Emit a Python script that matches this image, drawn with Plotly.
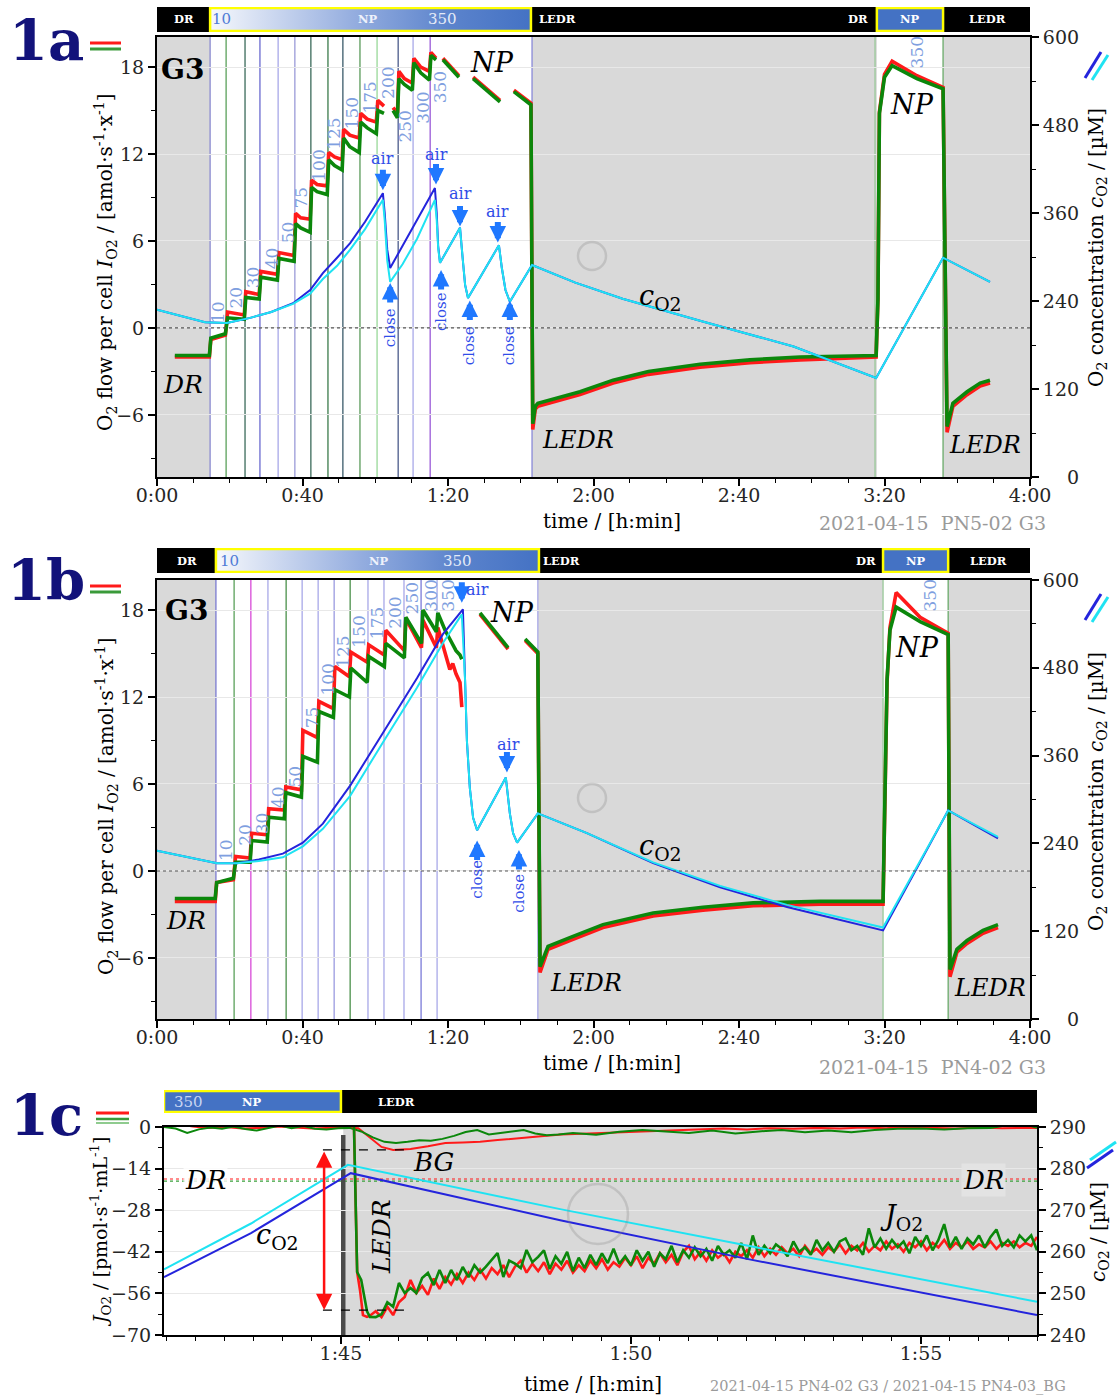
import plotly.graph_objects as go

FONT = "DejaVu Serif"
W, H = 1120, 1398

RED, GREEN, BLUE, CYAN = "#ff1a1a", "#0b870b", "#2424dc", "#1fe3f2"
GRAY = "#d9d9d9"
ARROW_BLUE, TXT_BLUE, TIT_BLUE = "#1f78ff", "#2f4de8", "#7f9fe0"
FIG_SP = "\u2007"

# ---------------- shared ticks ----------------
TIME_TICKS = [0, 40, 80, 120, 160, 200, 240]
TIME_LBL = ["0:00", "0:40", "1:20", "2:00", "2:40", "3:20", "4:00"]
FLOW_TICKS = [-6, 0, 6, 12, 18]
CONC_TICKS = [0, 120, 240, 360, 480, 600]
CONC_LBL = [FIG_SP + FIG_SP + "0", "120", "240", "360", "480", "600"]
C_TIME_TICKS = [105, 110, 115]
C_TIME_LBL = ["1:45", "1:50", "1:55"]
C_FLOW_TICKS = [-70, -56, -42, -28, -14, 0]
C_CONC_TICKS = [240, 250, 260, 270, 280, 290]
C_CONC_LBL = ["240", "250", "260", "270", "280", "290"]

# ---------------- panel 1a ----------------
A_T = [4.9, 14.4, 14.8, 18.8, 19.4, 24.0, 24.4, 28.1, 28.5, 33.1, 33.5, 37.7, 38.1, 39.5, 42.1,
       42.5, 44.0, 46.8, 47.2, 48.8, 50.9, 51.3, 53.0, 55.6, 56.0, 57.8, 60.3, 60.7, 62.4, None,
       64.9, 66.1, 66.5, 68.0, 70.2, 70.6, 72.5, 74.9, 75.3, 76.7, None, 78.6, 83.0, None,
       86.9, 94.3, None, 98.1, 102.8, 103.3, 104.0, 104.7, 108.9, 116.3, 125.4, 135.1, 149.3,
       163.0, 176.8, 190.5, 197.7, 198.2, 198.6, 200.0, 202.1, 208.9, 216.1, 217.2, 218.8,
       222.7, 226.3, 229.0]
A_RED = [-2.0, -2.0, -0.8, -0.5, 1.1, 0.9, 2.5, 2.3, 3.9, 3.7, 5.2, 5.0, 7.9, 7.6, 7.5,
         10.2, 9.9, 9.8, 12.1, 11.8, 11.6, 13.7, 13.3, 13.1, 14.8, 14.4, 14.2, 15.7, 15.3, None,
         15.2, 14.8, 17.7, 17.2, 16.9, 18.6, 18.0, 17.7, 19.0, 18.6, None, 18.6, 17.4, None,
         17.3, 15.7, None, 16.4, 15.5, -7.0, -5.6, -5.4, -5.1, -4.6, -3.8, -3.2, -2.7,
         -2.4, -2.2, -2.1, -2.0, 2.0, 14.9, 17.5, 18.4, 17.4, 16.6, -7.2, -5.4,
         -4.6, -4.0, -3.8]
A_GRN = [-1.9, -1.9, -0.7, -0.4, 0.7, 0.6, 2.1, 2.0, 3.5, 3.3, 4.8, 4.6, 7.2, 6.9, 6.6,
         9.7, 9.4, 9.2, 11.6, 11.2, 10.9, 13.1, 12.5, 12.1, 14.2, 13.8, 13.4, 15.0, 14.8, None,
         15.0, 14.5, 17.2, 16.8, 16.4, 18.3, 17.6, 17.1, 18.8, 18.5, None, 18.5, 17.3, None,
         17.2, 15.6, None, 16.3, 15.4, -6.6, -5.4, -5.2, -4.9, -4.4, -3.6, -3.0, -2.5,
         -2.2, -2.0, -1.9, -1.9, 2.0, 14.8, 17.3, 18.1, 17.2, 16.5, -6.8, -5.2,
         -4.4, -3.8, -3.6]
A_CB_T = [0, 13.2, 19.2, 25.6, 31.4, 37.4, 42.1, 45.6, 49.5, 53.1, 57.2, 62.1, 62.6, 63.3, 64.1,
          76.4, 76.9, 77.3, 77.8, 83.3, 84.0, 84.7, 85.5, 94.0, 94.8, 95.8, 97.0, 103.1, 115.0,
          128.0, 150.0, 175.0, 197.7, 216.1, 229.0]
A_CB = [228, 211, 210, 217, 225, 237, 255, 278, 299, 319, 348, 387, 360, 310, 285,
        394, 360, 315, 292, 340, 300, 262, 244, 316, 285, 255, 239, 289, 265,
        243, 212, 178, 135, 299, 266]
A_CC_T = [0, 13.2, 19.2, 25.6, 31.4, 37.4, 42.1, 45.6, 49.5, 53.1, 57.2, 62.1, 62.6, 63.3, 64.1,
          67.5, 71.5, 76.4, 76.9, 77.3, 77.8, 83.3, 84.0, 84.7, 85.5, 94.0, 94.8, 95.8, 97.0,
          103.1, 115.0, 128.0, 150.0, 175.0, 197.7, 216.1, 229.0]
A_CC = [228, 211, 210, 217, 225, 236, 250, 270, 288, 310, 338, 378, 350, 295, 266,
        290, 325, 378, 350, 312, 292, 340, 300, 262, 244, 316, 285, 255, 239,
        289, 265, 243, 212, 178, 135, 299, 266]
A_EV_T = [14.6, 19.0, 24.2, 28.3, 33.3, 37.9, 42.3, 47.0, 51.1, 55.8, 60.5, 66.3, 70.4, 75.1,
          103.1, 197.4, 216.1]
A_EV_C = ["#8a8ad0", "#5aa05a", "#3a6a5a", "#6a6ad0", "#a8a8e8", "#9a9ad8", "#3a6a5a",
          "#3a7a4a", "#3a5a6a", "#5a9a5a", "#98d898", "#4a5a8a", "#a8a8e8", "#9a5ad8",
          "#8a8ad8", "#98c898", "#6aaa6a"]
A_GRAY_X0 = [0, 103.1, 216.1]
A_GRAY_X1 = [14.6, 197.9, 240]
A_NP1 = [14.6, 102.8]
A_NP2 = [197.9, 216.1]
A_TIT_LBL = ["10", "20", "30", "40", "50", "75", "100", "125", "150", "175", "200", "250",
             "300", "350", "350"]
A_TIT_T = [16.8, 21.7, 26.4, 31.6, 36.0, 39.6, 44.3, 48.7, 53.6, 58.6, 63.5, 68.2, 72.9,
           77.8, 208.9]
A_TIT_V = [1.1, 2.1, 3.5, 4.8, 6.6, 9.0, 11.2, 13.4, 14.8, 15.9, 16.9, 13.9, 15.2, 16.6, 19.0]
A_AIR_T = [62.1, 76.7, 83.3, 93.7]
A_AIR_TIP = [9.5, 9.9, 7.0, 5.9]
A_AIR_TXT = [11.7, 12.0, 9.3, 8.0]
A_CLOSE_T = [64.1, 78.1, 86.0, 97.0]
A_CLOSE_TIP = [3.1, 4.0, 1.9, 1.9]
A_CLOSE_TXT = [0.0, 1.1, -1.2, -1.2]

# ---------------- panel 1b ----------------
B_T = [4.9, 16.0, 16.4, 21.0, 21.6, 25.6, 26.0, 30.3, 30.7, 35.0, 35.4, 39.7, 40.1, 44.1,
       44.5, 48.5, 48.9, 52.9, 53.3, 57.8, 58.2, 62.5, 62.9, 68.0, 68.4, 72.7, 73.1, 76.8,
       77.2, 79.2, 80.5, 81.3, 82.2, 83.3, 83.8, None, 88.8, 96.5, None, 101.2, 104.7,
       105.3, 107.5, 113.5, 122.6, 136.4, 150.1, 163.9, 182.3, 199.6, 200.2, 200.7, 201.5,
       203.2, 209.8, 217.5, 218.0, 219.9, 222.7, 227.1, 231.2]
B_RED = [-2.1, -2.1, -0.8, -0.6, 1.0, 0.9, 2.6, 2.5, 4.3, 4.2, 5.8, 5.6, 9.7, 9.2,
         11.7, 11.2, 14.1, 13.4, 15.1, 14.4, 15.6, 14.9, 16.6, 15.2, 17.4, 15.4, 17.3, 15.4,
         16.8, 15.0, 13.9, 14.3, 13.6, 13.0, 11.3, None, 17.7, 15.3, None, 15.9, 15.0,
         -7.0, -5.4, -4.8, -3.9, -3.1, -2.7, -2.4, -2.3, -2.3, 5.0, 13.0, 16.8,
         19.2, 17.5, 16.4, -7.3, -5.6, -5.0, -4.3, -3.9]
B_GRN = [-1.9, -1.9, -0.8, -0.5, 0.6, 0.6, 2.1, 2.0, 3.7, 3.6, 5.4, 5.1, 7.9, 7.5,
         11.0, 10.6, 12.5, 12.0, 14.0, 13.0, 14.8, 14.1, 15.7, 14.7, 17.5, 15.7, 18.0, 16.5,
         17.8, 16.6, 16.0, 15.6, 15.2, 14.9, 14.6, None, 17.8, 15.4, None, 16.0, 15.1,
         -6.6, -5.2, -4.6, -3.7, -2.9, -2.5, -2.2, -2.1, -2.1, 5.0, 13.2, 16.6,
         18.2, 17.2, 16.3, -6.8, -5.4, -4.8, -4.1, -3.7]
B_CB_T = [0, 16.5, 22.0, 28.0, 34.6, 40.1, 45.6, 53.1, 62.1, 71.5, 78.6, 84.1, 84.7, 85.2,
          86.0, 86.9, 88.0, 95.9, 97.0, 97.9, 99.0, 104.7, 118.2, 136.4, 154.8, 173.2,
          199.6, 217.5, 231.2]
B_CB = [230, 213, 213, 218, 226, 241, 267, 319, 391, 466, 526, 560, 462, 380,
        316, 275, 258, 330, 281, 254, 241, 281, 254, 213, 180, 153,
        121, 285, 247]
B_CC_T = [0, 16.5, 22.0, 28.0, 34.6, 40.1, 45.6, 53.1, 62.1, 71.5, 78.6, 83.8, 84.7, 85.2,
          86.0, 86.9, 88.0, 95.9, 97.0, 97.9, 99.0, 104.7, 118.2, 136.4, 154.8, 173.2,
          199.6, 217.5, 231.2]
B_CC = [230, 213, 213, 216, 221, 236, 260, 305, 378, 453, 514, 553, 462, 380,
        316, 275, 258, 330, 281, 254, 241, 281, 254, 214, 182, 156,
        125, 285, 249]
B_EV_T = [16.2, 21.2, 25.8, 30.5, 35.5, 39.9, 44.3, 48.7, 53.1, 58.0, 62.4, 67.9, 72.6, 77.0,
          104.7, 199.6, 217.5]
B_EV_C = ["#7a7ad0", "#5aa05a", "#d84ad8", "#a8a8e8", "#4a904a", "#a8a8e8", "#a8a8e8",
          "#9a9ae0", "#4a904a", "#a8a8e8", "#a8a8e8", "#a8a8e8", "#7a7ad8", "#a8a8e8",
          "#a8a8e8", "#98c898", "#6aaa6a"]
B_GRAY_X0 = [0, 104.7, 217.5]
B_GRAY_X1 = [16.2, 199.6, 240]
B_NP1 = [16.2, 105.0]
B_NP2 = [199.6, 217.5]
B_TIT_LBL = ["10", "20", "30", "40", "50", "75", "100", "125", "150", "175", "200", "250",
             "300", "350", "350"]
B_TIT_T = [19.0, 24.2, 28.9, 33.3, 37.9, 42.6, 47.0, 51.1, 55.5, 60.5, 65.4, 70.1, 75.1,
           80.0, 212.5]
B_TIT_V = [1.45, 2.5, 3.3, 5.1, 6.5, 10.6, 13.2, 15.1, 16.5, 17.1, 17.8, 18.8, 19.0, 19.0, 19.0]
B_AIR_T = [83.8, 96.2]
B_AIR_TIP = [18.5, 6.8]
B_AIR_TXT_T = [88.2, 96.5]
B_AIR_TXT = [19.4, 8.7]
B_CLOSE_T = [88.0, 99.5]
B_CLOSE_TIP = [2.1, 1.45]
B_CLOSE_TXT = [-0.6, -1.5]

# ---------------- panel 1c ----------------
C_CB_T = [101.95, 103.45, 105.17, 108.8, 112.0, 117.0]
C_CB = [253.9, 264.5, 278.9, 267.5, 258.3, 244.8]
C_CC_T = [101.95, 103.45, 105.12, 108.8, 112.0, 117.0]
C_CC = [255.8, 266.8, 280.9, 270.2, 261.5, 248.0]

C_BGR_T = [101.95, 102.2, 102.45, 102.7, 103.0, 103.3, 103.6, 103.9, 104.2, 104.5, 104.8, 105.1,
           105.3, 105.5, 105.7, 105.9, 106.2, 106.5, 106.8, 107.1, 107.4, 107.7, 108.0, 108.4,
           108.8, 109.2, 109.6, 110.0, 110.4, 110.8, 111.2, 111.6, 112.0, 112.4, 112.8, 113.2,
           113.6, 114.0, 114.4, 114.8, 115.2, 115.6, 116.0, 116.4, 116.8, 117.0]
C_BGR = [0.3, 0.8, 0.2, -0.3, 0.0, -0.5, -0.3, 0.2, -0.2, -0.5, -0.3, -0.2,
         -0.4, -3.5, -6.7, -7.7, -7.4, -6.5, -5.4, -5.2, -5.0, -4.4, -3.8, -3.2,
         -2.5, -2.2, -2.0, -1.7, -1.3, -1.0, -0.7, -0.5, -0.8, -0.4, -0.6, -0.3,
         -0.5, -0.2, -0.4, 0.1, -0.3, -0.5, -0.2, -0.4, -0.3, -0.3]
C_BGG_T = [101.95, 102.15, 102.35, 102.55, 102.75, 102.95, 103.15, 103.35, 103.55, 103.75,
           103.95, 104.15, 104.35, 104.55, 104.75, 104.95, 105.15, 105.35, 105.55, 105.75,
           105.95, 106.15, 106.35, 106.55, 106.75, 106.95, 107.15, 107.35, 107.55, 107.75,
           107.95, 108.15, 108.35, 108.55, 108.75, 109.0, 109.4, 109.8, 110.2, 110.6, 111.0,
           111.4, 111.8, 112.2, 112.6, 113.0, 113.4, 113.8, 114.2, 114.6, 115.0, 115.4, 115.8,
           116.2, 116.5, 116.7, 116.9, 117.0]
C_BGG = [0.0, -0.5, -2.0, -0.8, -0.2, -0.6, 0.2, -0.7, -1.2, -0.3,
         0.5, -0.4, 0.3, -0.6, -0.8, -0.4, -0.3, -1.5, -3.5, -5.0,
         -5.4, -5.0, -4.5, -4.6, -4.0, -3.0, -1.7, -1.0, -2.5, -2.0,
         -1.5, -1.0, -2.2, -2.8, -2.5, -2.0, -2.6, -1.6, -1.0, -1.4, -2.0,
         -1.2, -2.2, -1.5, -1.0, -1.8, -1.2, -1.8, -1.0, -0.6, -0.5, -0.8, -0.4,
         -0.3, 0.5, 1.3, 0.3, -0.3]

C_G_T = [105.22, 105.28, 105.35, 105.40, 105.45,
         105.5, 105.6, 105.7, 105.8, 105.9, 106.0, 106.1, 106.2, 106.3, 106.4, 106.5, 106.6,
         106.7, 106.8, 106.9, 107.0, 107.1, 107.2, 107.3, 107.4, 107.5, 107.6, 107.7, 107.8,
         107.9, 108.0, 108.1, 108.2, 108.3, 108.4, 108.5, 108.6, 108.7, 108.8, 108.9, 109.0,
         109.1, 109.2, 109.3, 109.4, 109.5, 109.6, 109.7, 109.8, 109.9, 110.0, 110.1, 110.2,
         110.3, 110.4, 110.5, 110.6, 110.7, 110.8, 110.9, 111.0, 111.1, 111.2, 111.3, 111.4,
         111.5, 111.6, 111.7, 111.8, 111.9, 112.0, 112.1, 112.2, 112.3, 112.4, 112.5, 112.6,
         112.7, 112.8, 112.9, 113.0, 113.1, 113.2, 113.3, 113.4, 113.5, 113.6, 113.7, 113.8,
         113.9, 114.0, 114.1, 114.2, 114.3, 114.4, 114.5, 114.6, 114.7, 114.8, 114.9, 115.0,
         115.1, 115.2, 115.3, 115.4, 115.5, 115.6, 115.7, 115.8, 115.9, 116.0, 116.1, 116.2,
         116.3, 116.4, 116.5, 116.6, 116.7, 116.8, 116.9, 117.0]
C_G = [5.0, -48.8, -51.5, -57.2, -62.0,
       -63.9, -64.0, -63.0, -59.0, -60.5, -52.5, -55.9, -54.2, -55.9, -50.8, -49.1, -53.2,
       -48.1, -52.5, -48.1, -51.5, -47.1, -50.5, -46.5, -49.0, -47.0, -44.8, -42.4, -50.5,
       -45.0, -46.0, -47.5, -41.4, -45.5, -43.7, -41.5, -47.8, -43.5, -46.0, -42.0, -48.5,
       -44.0, -47.5, -43.0, -46.5, -42.5, -45.8, -41.0, -46.0, -43.5, -46.5, -41.5, -45.0,
       -42.0, -47.0, -42.5, -44.5, -40.0, -45.5, -41.5, -44.0, -40.5, -43.5, -41.0, -45.0,
       -40.0, -43.0, -41.5, -44.0, -39.0, -44.5, -36.5, -43.0, -40.0, -42.5, -39.5, -41.0,
       -43.5, -38.5, -42.0, -40.5, -43.0, -38.0, -41.5, -39.0, -42.0, -38.5, -37.5, -41.5,
       -40.0, -43.0, -34.1, -40.5, -37.5, -41.0, -38.0, -40.5, -38.5, -42.5, -37.0, -40.0,
       -36.5, -41.5, -38.0, -32.7, -40.5, -37.0, -41.0, -37.5, -39.5, -36.5, -40.5, -37.0,
       -34.5, -40.0, -38.0, -40.5, -36.5, -38.5, -36.5, -41.5]
C_R_T = [105.22, 105.28, 105.33, 105.38, 105.45,
         105.5, 105.6, 105.7, 105.8, 105.9, 106.0, 106.1, 106.2, 106.3, 106.4, 106.5, 106.6,
         106.7, 106.8, 106.9, 107.0, 107.1, 107.2, 107.3, 107.4, 107.5, 107.6, 107.7, 107.8,
         107.9, 108.0, 108.1, 108.2, 108.3, 108.4, 108.5, 108.6, 108.7, 108.8, 108.9, 109.0,
         109.1, 109.2, 109.3, 109.4, 109.5, 109.6, 109.7, 109.8, 109.9, 110.0, 110.1, 110.2,
         110.3, 110.4, 110.5, 110.6, 110.7, 110.8, 110.9, 111.0, 111.1, 111.2, 111.3, 111.4,
         111.5, 111.6, 111.7, 111.8, 111.9, 112.0, 112.1, 112.2, 112.3, 112.4, 112.5, 112.6,
         112.7, 112.8, 112.9, 113.0, 113.1, 113.2, 113.3, 113.4, 113.5, 113.6, 113.7, 113.8,
         113.9, 114.0, 114.1, 114.2, 114.3, 114.4, 114.5, 114.6, 114.7, 114.8, 114.9, 115.0,
         115.1, 115.2, 115.3, 115.4, 115.5, 115.6, 115.7, 115.8, 115.9, 116.0, 116.1, 116.2,
         116.3, 116.4, 116.5, 116.6, 116.7, 116.8, 116.9, 117.0]
C_R = [5.0, -48.8, -55.0, -63.3, -63.9,
       -63.5, -62.0, -64.0, -60.5, -63.3, -59.0, -57.2, -51.5, -55.9, -53.5, -56.5, -51.0,
       -54.5, -50.5, -53.0, -49.5, -52.5, -49.0, -51.5, -48.0, -51.0, -47.5, -49.5, -46.5,
       -50.5, -47.0, -45.0, -49.0, -46.0, -48.5, -45.5, -49.5, -46.0, -48.0, -45.0, -49.0,
       -46.5, -48.5, -45.0, -47.5, -44.5, -48.0, -45.5, -47.0, -44.0, -46.5, -43.5, -47.5,
       -44.0, -46.0, -42.5, -45.5, -43.0, -46.5, -42.0, -40.0, -44.5, -42.0, -45.0, -41.5,
       -44.0, -42.5, -45.5, -42.0, -43.5, -41.5, -44.0, -40.5, -43.5, -41.0, -43.0, -40.5,
       -42.5, -41.0, -43.5, -40.0, -42.5, -41.0, -43.0, -40.5, -42.0, -39.5, -42.5, -40.0,
       -41.5, -39.0, -42.0, -40.0, -41.5, -38.5, -41.0, -39.5, -42.0, -39.0, -40.5, -38.5,
       -41.5, -39.0, -40.5, -38.0, -41.0, -39.0, -40.5, -38.5, -41.0, -39.5, -40.5, -38.5,
       -41.0, -39.0, -40.0, -38.5, -40.5, -39.0, -40.0, -37.0]
C_EVENT = 105.04
C_GRAY = [105.04, 117.0]
C_NP = [101.95, 105.0]
C_DR_RED = -17.5
C_DR_GRN = -18.2
C_BG_LEVEL = -7.7
C_LEDR_MIN = -61.6
C_MARK_T = [104.69, 106.23]
C_ARROW_T = 104.71
C_EVENT_TOP = -2.7

fig = go.Figure()


def line(x, y, xa, ya, color, width):
    fig.add_trace(go.Scatter(x=x, y=y, xaxis=xa, yaxis=ya, mode="lines",
                             line=dict(color=color, width=width), hoverinfo="skip",
                             connectgaps=False, showlegend=False))


shapes, anns = [], []


def txt(xr, yr, x, y, text, size, color="black", bold=False, italic=False, angle=0, **kw):
    t = text
    if italic:
        t = "<i>" + t + "</i>"
    if bold:
        t = "<b>" + t + "</b>"
    d = dict(xref=xr, yref=yr, x=x, y=y, text=t, showarrow=False, textangle=angle,
             font=dict(family=FONT, size=size, color=color))
    d.update(kw)
    anns.append(d)


def arrow(xr, yr, x, y, ay):
    anns.append(dict(xref=xr, yref=yr, x=x, y=y, ax=0, ay=ay, text="", showarrow=True,
                     arrowhead=2, arrowsize=0.55, arrowwidth=6, arrowcolor=ARROW_BLUE,
                     standoff=0))


def panel_big(xa, ya, ya2, yb, T, RD, GR, CBT, CB, CCT, CC, EVT, EVC, GX0, GX1, NP1, NP2,
              TL, TT, TV):
    xr = xa
    for a, b in zip(GX0, GX1):
        shapes.append(dict(type="rect", xref=xr, yref=ya + " domain", x0=a, x1=b, y0=0, y1=1,
                           fillcolor=GRAY, line=dict(width=0), layer="below"))
    for t, c in zip(EVT, EVC):
        shapes.append(dict(type="line", xref=xr, yref=ya + " domain", x0=t, x1=t, y0=0, y1=1,
                           line=dict(color=c, width=1.3), layer="below"))
    shapes.append(dict(type="line", xref=xr + " domain", yref=ya, x0=0, x1=1, y0=0, y1=0,
                       line=dict(color="#555", width=1.2, dash="dot"), layer="above"))
    line(T, RD, xa, ya, RED, 3.6)
    line(T, GR, xa, ya, GREEN, 3.6)
    line(CBT, CB, xa, ya2, BLUE, 2)
    line(CCT, CC, xa, ya2, CYAN, 2)
    shapes.append(dict(type="rect", xref=xr + " domain", yref=yb, x0=0, x1=1, y0=0, y1=1,
                       fillcolor="black", line=dict(width=0), layer="below"))
    fig.add_trace(go.Scatter(x=[NP1[0], NP1[1], NP1[1], NP1[0], NP1[0]], y=[0, 0, 1, 1, 0],
                             xaxis=xa, yaxis=yb, mode="lines", fill="toself",
                             line=dict(width=0),
                             fillgradient=dict(type="horizontal",
                                               colorscale=[[0, "#f6f8fc"], [0.45, "#94addf"],
                                                           [0.75, "#5b83cc"], [1, "#4472c4"]]),
                             hoverinfo="skip", showlegend=False))
    shapes.append(dict(type="rect", xref=xr, yref=yb, x0=NP1[0], x1=NP1[1], y0=0.04, y1=0.96,
                       line=dict(color="#ffff00", width=2.5), layer="above"))
    shapes.append(dict(type="rect", xref=xr, yref=yb, x0=NP2[0], x1=NP2[1], y0=0.04, y1=0.96,
                       fillcolor="#4472c4", line=dict(color="#ffff00", width=2.5),
                       layer="above"))
    for l, t, v in zip(TL, TT, TV):
        txt(xr, ya, t, v, l, 17, color=TIT_BLUE, angle=-90)


panel_big("x", "y", "y2", "y3", A_T, A_RED, A_GRN, A_CB_T, A_CB, A_CC_T, A_CC, A_EV_T, A_EV_C,
          A_GRAY_X0, A_GRAY_X1, A_NP1, A_NP2, A_TIT_LBL, A_TIT_T, A_TIT_V)
panel_big("x2", "y4", "y5", "y6", B_T, B_RED, B_GRN, B_CB_T, B_CB, B_CC_T, B_CC, B_EV_T,
          B_EV_C, B_GRAY_X0, B_GRAY_X1, B_NP1, B_NP2, B_TIT_LBL, B_TIT_T, B_TIT_V)

for xr, yb, items in [
    ("x", "y3", [(7.4, "DR", "white", True), (17.6, "10", "#4f7bd6", False),
                 (58.0, "NP", "#eef2fb", True), (78.6, "350", "#e4ebf8", False),
                 (110.0, "LEDR", "white", True), (192.7, "DR", "white", True),
                 (207.0, "NP", "white", True), (228.2, "LEDR", "white", True)]),
    ("x2", "y6", [(8.2, "DR", "white", True), (19.8, "10", "#4f7bd6", False),
                  (61.0, "NP", "#eef2fb", True), (82.5, "350", "#e4ebf8", False),
                  (111.1, "LEDR", "white", True), (194.9, "DR", "white", True),
                  (208.7, "NP", "white", True), (228.7, "LEDR", "white", True)])]:
    for t, s, c, b in items:
        txt(xr, yb, t, 0.5, s, 11.5 if b else 15, color=c, bold=b)

txt("x", "y", 7.1, 17.8, "G3", 28, bold=True)
txt("x", "y", 92.1, 18.3, "NP", 27, italic=True)
txt("x", "y", 207.6, 15.4, "NP", 27, italic=True)
txt("x", "y", 7.1, -3.9, "DR", 25, italic=True)
txt("x", "y", 115.7, -7.7, "LEDR", 24, italic=True)
txt("x", "y", 227.6, -8.1, "LEDR", 24, italic=True)
txt("x", "y", 138.3, 2.1, "<i>c</i><sub>O2</sub>", 27)
for t, tip, ty in zip(A_AIR_T, A_AIR_TIP, A_AIR_TXT):
    arrow("x", "y", t, tip, -22)
    txt("x", "y", t, ty, "air", 16, color=TXT_BLUE)
for t, tip, ty in zip(A_CLOSE_T, A_CLOSE_TIP, A_CLOSE_TXT):
    arrow("x", "y", t, tip, 21)
    txt("x", "y", t, ty, "close", 15, color=TXT_BLUE, angle=-90)

txt("x2", "y4", 8.0, 18.0, "G3", 28, bold=True)
txt("x2", "y4", 97.6, 17.8, "NP", 27, italic=True)
txt("x2", "y4", 208.9, 15.4, "NP", 27, italic=True)
txt("x2", "y4", 8.0, -3.4, "DR", 25, italic=True)
txt("x2", "y4", 117.9, -7.7, "LEDR", 24, italic=True)
txt("x2", "y4", 229.0, -8.1, "LEDR", 24, italic=True)
txt("x2", "y4", 138.3, 1.6, "<i>c</i><sub>O2</sub>", 27)
for t, tip in zip(B_AIR_T, B_AIR_TIP):
    arrow("x2", "y4", t, tip, -22)
for t, ty in zip(B_AIR_TXT_T, B_AIR_TXT):
    txt("x2", "y4", t, ty, "air", 16, color=TXT_BLUE)
for t, tip, ty in zip(B_CLOSE_T, B_CLOSE_TIP, B_CLOSE_TXT):
    arrow("x2", "y4", t, tip, 21)
    txt("x2", "y4", t, ty, "close", 15, color=TXT_BLUE, angle=-90)

# ---------------- panel 1c drawing ----------------
shapes.append(dict(type="rect", xref="x3", yref="y7 domain", x0=C_GRAY[0], x1=C_GRAY[1],
                   y0=0, y1=1, fillcolor=GRAY, line=dict(width=0), layer="below"))
shapes.append(dict(type="line", xref="x3 domain", yref="y7", x0=0, x1=1, y0=C_DR_RED,
                   y1=C_DR_RED, line=dict(color=RED, width=1.2, dash="dot"), layer="below"))
shapes.append(dict(type="line", xref="x3 domain", yref="y7", x0=0, x1=1, y0=C_DR_GRN,
                   y1=C_DR_GRN, line=dict(color="#3aa03a", width=1.2, dash="dot"),
                   layer="below"))
shapes.append(dict(type="line", xref="x3", yref="y7", x0=C_EVENT, x1=C_EVENT, y0=C_EVENT_TOP,
                   y1=-70, line=dict(color="#4a4a4a", width=4.5), layer="below"))
for lv in (C_BG_LEVEL, C_LEDR_MIN):
    shapes.append(dict(type="line", xref="x3", yref="y7", x0=C_MARK_T[0], x1=C_MARK_T[1],
                       y0=lv, y1=lv, line=dict(color="black", width=1.3, dash="dash"),
                       layer="above"))
line(C_BGR_T, C_BGR, "x3", "y7", RED, 2)
line(C_BGG_T, C_BGG, "x3", "y7", GREEN, 2)
line(C_R_T, C_R, "x3", "y7", RED, 2.6)
line(C_G_T, C_G, "x3", "y7", GREEN, 2.6)
line(C_CB_T, C_CB, "x3", "y8", BLUE, 2)
line(C_CC_T, C_CC, "x3", "y8", CYAN, 2)
anns.append(dict(xref="x3", yref="y7", x=C_ARROW_T, y=C_LEDR_MIN, axref="x3", ayref="y7",
                 ax=C_ARROW_T, ay=C_BG_LEVEL, text="", showarrow=True, arrowside="end+start",
                 arrowhead=2, startarrowhead=2, arrowsize=1.3, startarrowsize=1.3,
                 arrowwidth=2.5, arrowcolor="#ff1010"))
shapes.append(dict(type="rect", xref="x3", yref="y9", x0=C_NP[1], x1=117.0, y0=0, y1=1,
                   fillcolor="black", line=dict(width=0), layer="above"))
shapes.append(dict(type="rect", xref="x3", yref="y9", x0=C_NP[0], x1=C_NP[1], y0=0.04,
                   y1=0.96, fillcolor="#4472c4", line=dict(color="#ffff00", width=2.5),
                   layer="above"))
txt("x3", "y9", 102.38, 0.5, "350", 15, color="#c9d6f2")
txt("x3", "y9", 103.47, 0.5, "NP", 11.5, color="white", bold=True)
txt("x3", "y9", 105.95, 0.5, "LEDR", 11.5, color="white", bold=True)
txt("x3", "y7", 106.6, -11.8, "BG", 26, italic=True)
txt("x3", "y7", 102.66, -17.8, "DR", 26, italic=True, bgcolor="rgba(255,255,255,0.8)")
txt("x3", "y7", 116.07, -17.8, "DR", 26, italic=True, bgcolor="rgba(228,228,228,0.95)")
txt("x3", "y7", 103.9, -37.0, "<i>c</i><sub>O2</sub>", 27)
txt("x3", "y7", 105.71, -37.0, "LEDR", 25, italic=True, angle=-90)
txt("x3", "y7", 114.66, -30.6, "<i>J</i><sub>O2</sub>", 27)


def ptxt(x, y, text, size, color="black", angle=0, **kw):
    d = dict(xref="paper", yref="paper", x=x / W, y=1 - y / H, text=text, showarrow=False,
             textangle=angle, font=dict(family=FONT, size=size, color=color),
             xanchor="center", yanchor="middle")
    d.update(kw)
    anns.append(d)


FLOW_TITLE = "O<sub>2</sub> flow per cell <i>I</i><sub>O2</sub> / [amol·s<sup>-1</sup>·x<sup>-1</sup>]"
CONC_TITLE = "O<sub>2</sub> concentration <i>c</i><sub>O2</sub> / [µM]"
ptxt(106, 262, FLOW_TITLE, 20, angle=-90)
ptxt(1097, 248, CONC_TITLE, 20, angle=-90)
ptxt(106, 806, FLOW_TITLE, 20, angle=-90)
ptxt(1097, 792, CONC_TITLE, 20, angle=-90)
ptxt(100, 1232, "<i>J</i><sub>O2</sub> / [pmol·s<sup>-1</sup>·mL<sup>-1</sup>]", 19, angle=-90)
ptxt(1099, 1232, "<i>c</i><sub>O2</sub> / [µM]", 20, angle=-90)
ptxt(612, 521, "time / [h:min]", 20)
ptxt(612, 1063, "time / [h:min]", 20)
ptxt(593, 1384, "time / [h:min]", 20)
ptxt(932, 523, "2021-04-15  PN5-02 G3", 19, color="#9a9a9a")
ptxt(932, 1067, "2021-04-15  PN4-02 G3", 19, color="#9a9a9a")
ptxt(888, 1386, "2021-04-15 PN4-02 G3 / 2021-04-15 PN4-03_BG", 14.5, color="#9a9a9a")
for lab, yy in (("1a", 40), ("1b", 580), ("1c", 1115)):
    ptxt(46, yy, "<b>" + lab + "</b>", 56, color="#12127a")


def pline(x0, y0, x1, y1, color, width):
    shapes.append(dict(type="line", xref="paper", yref="paper", x0=x0 / W, x1=x1 / W,
                       y0=1 - y0 / H, y1=1 - y1 / H, line=dict(color=color, width=width)))


for yr, yg in ((43, 49), (586, 592)):
    pline(90, yr, 121, yr, RED, 3)
    pline(90, yg, 121, yg, "#3a9a3a", 3)
pline(96, 1113, 129, 1113, RED, 3)
pline(96, 1119, 129, 1119, "#3a9a3a", 2.5)
pline(96, 1123, 129, 1123, "#6aba6a", 1.5)
for base in (66, 608):
    pline(1085, base + 12, 1101, base - 14, BLUE, 3)
    pline(1092, base + 14, 1108, base - 11, CYAN, 3)
pline(1087, 1168, 1113, 1150, BLUE, 3)
pline(1090, 1160, 1116, 1142, CYAN, 3)

for (cx, cy, r) in ((592, 256, 14), (592, 798, 14), (598, 1214, 30)):
    shapes.append(dict(type="circle", xref="paper", yref="paper", x0=(cx - r) / W,
                       x1=(cx + r) / W, y0=1 - (cy + r) / H, y1=1 - (cy - r) / H,
                       line=dict(color="rgba(140,140,140,0.3)", width=2.5), layer="above"))

TICKFONT = dict(family=FONT, size=19, color="#262626")


def xax(dom, rng, tv, tt, anchor, minor_dtick):
    return dict(domain=dom, range=rng, anchor=anchor, tickmode="array", tickvals=tv, ticktext=tt,
                showline=True, linecolor="black", linewidth=2, mirror=True, ticks="outside",
                ticklen=7, tickwidth=1.5, tickcolor="black", tickfont=TICKFONT,
                ticklabelstandoff=-7, automargin=False,
                showgrid=False, zeroline=False,
                minor=dict(ticks="outside", ticklen=4, tickwidth=1, tickcolor="black",
                           dtick=minor_dtick, tick0=0, showgrid=False))


def yax(dom, rng, tv, anchor, minor_dtick, grid=True, tt=None):
    d = dict(domain=dom, range=rng, anchor=anchor, tickmode="array", tickvals=tv,
             showline=True, linecolor="black", linewidth=2, ticks="outside", ticklen=7,
             tickwidth=1.5, tickcolor="black", tickfont=TICKFONT, showgrid=grid,
             gridcolor="#e8e8e8", gridwidth=1, zeroline=False, automargin=False,
             minor=dict(ticks="outside", ticklen=4, tickwidth=1, tickcolor="black",
                        dtick=minor_dtick, tick0=0, showgrid=False))
    if tt is not None:
        d["ticktext"] = tt
    return d


def yax2(over, rng, tv, tt, anchor, minor_dtick):
    d = yax([0, 1], rng, tv, anchor, minor_dtick, grid=False, tt=tt)
    d.pop("domain")
    d.update(overlaying=over, side="right")
    return d


def barax(dom, anchor):
    return dict(domain=dom, range=[0, 1], anchor=anchor, visible=False, fixedrange=True,
                automargin=False)


XD = [157 / W, 1030 / W]
XD3 = [164 / W, 1037 / W]
layout = dict(
    template="none",
    width=W, height=H, autosize=False, margin=dict(l=0, r=0, t=0, b=0, pad=0),
    paper_bgcolor="white", plot_bgcolor="white", showlegend=False,
    shapes=shapes, annotations=anns,
    xaxis=xax(XD, [0, 240], TIME_TICKS, TIME_LBL, "y", 10),
    yaxis=yax([1 - 477 / H, 1 - 37 / H], [-10.28, 20.07], FLOW_TICKS, "x", 3),
    yaxis2=yax2("y", [0, 600], CONC_TICKS, CONC_LBL, "x", 60),
    yaxis3=barax([1 - 32 / H, 1 - 7 / H], "x"),
    xaxis2=xax(XD, [0, 240], TIME_TICKS, TIME_LBL, "y4", 10),
    yaxis4=yax([1 - 1019 / H, 1 - 580 / H], [-10.21, 20.07], FLOW_TICKS, "x2", 3),
    yaxis5=yax2("y4", [0, 600], CONC_TICKS, CONC_LBL, "x2", 60),
    yaxis6=barax([1 - 573 / H, 1 - 548 / H], "x2"),
    xaxis3=xax(XD3, [101.95, 117.0], C_TIME_TICKS, C_TIME_LBL, "y7", 0.5),
    yaxis7=yax([1 - 1335 / H, 1 - 1127 / H], [-70, 0], C_FLOW_TICKS, "x3", 7),
    yaxis8=yax2("y7", [240, 290], C_CONC_TICKS, C_CONC_LBL, "x3", 5),
    yaxis9=barax([1 - 1113 / H, 1 - 1090 / H], "x3"),
)
fig.update_layout(**layout)
fig.write_html("out.html", config={"displayModeBar": False},
               post_script="document.body.style.margin='0px';"
                           "document.body.style.padding='0px';"
                           "document.documentElement.style.overflow='hidden';")
